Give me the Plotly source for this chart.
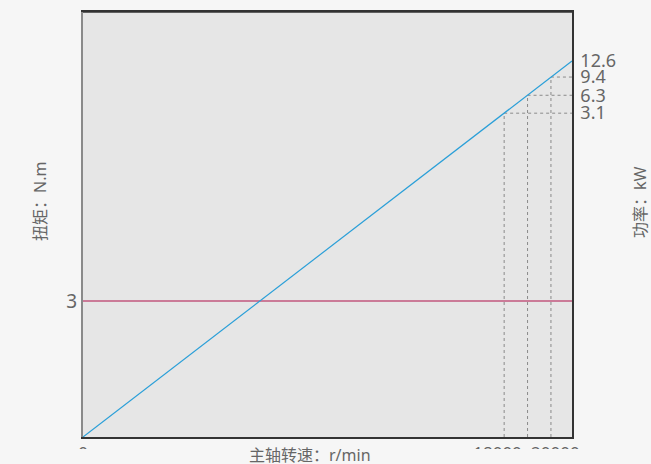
import plotly.graph_objects as go

# Data
speed_range = [0, 20900]            # spindle speed r/min (start, end)
power_curve = [0, 12.6]             # power kW along speed_range
torque_curve = [3, 3]               # torque N.m along speed_range
mark_speeds = [18000, 19000, 20000]
mark_powers = [10.85, 11.45, 12.06]
power_tickvals = [10.85, 11.45, 12.06, 12.6]
power_ticktext = ["3.1", "6.3", "9.4", "12.6"]
torque_ticks = [3]
speed_tickvals = [0, 18000, 20000]
speed_ticktext = ["0", "18000\u00a0\u00a0\u00a0", "\u00a0\u00a020000"]

FONT = "Noto Sans, Noto Sans CJK SC, sans-serif"
GRAY = "#666666"

fig = go.Figure()

# dashed guide lines
for s, p in zip(mark_speeds, mark_powers):
    fig.add_trace(go.Scatter(x=[s, s], y=[0, p], yaxis="y2", mode="lines",
                             line=dict(color="#8a8a8a", width=1, dash="3px,3px"),
                             hoverinfo="skip", showlegend=False))
    fig.add_trace(go.Scatter(x=[s, speed_range[1]], y=[p, p], yaxis="y2", mode="lines",
                             line=dict(color="#8a8a8a", width=1, dash="3px,3px"),
                             hoverinfo="skip", showlegend=False))

# torque line
fig.add_trace(go.Scatter(x=speed_range, y=torque_curve, mode="lines",
                         line=dict(color="#b0104a", width=1.1), showlegend=False))
# power line
fig.add_trace(go.Scatter(x=speed_range, y=power_curve, yaxis="y2", mode="lines",
                         line=dict(color="#2a9fd8", width=1.2), showlegend=False))

fig.update_layout(
    width=651, height=464,
    margin=dict(l=83, r=79, t=12, b=27, autoexpand=False),
    paper_bgcolor="#f6f6f6",
    plot_bgcolor="#e6e6e6",
    font=dict(family=FONT, color=GRAY, size=17),
    xaxis=dict(range=speed_range, tickvals=speed_tickvals, ticktext=speed_ticktext,
               showgrid=False, zeroline=False, showline=True, linecolor="#333333",
               linewidth=1.5, mirror=True, ticks="", ticklen=0, tickangle=0,
               automargin=False, tickfont=dict(size=17, color=GRAY)),
    yaxis=dict(range=[0, 9.375], tickvals=torque_ticks, showgrid=False, zeroline=False,
               showline=True, linecolor="#8a8a8a", linewidth=2, ticks="", automargin=False,
               tickfont=dict(size=19, color=GRAY)),
    yaxis2=dict(range=[0, 14.24], overlaying="y", side="right", tickvals=power_tickvals,
                ticktext=power_ticktext, showgrid=False, zeroline=False, showline=True,
                linecolor="#333333", linewidth=1.5, ticks="", automargin=False,
                ticklabelstandoff=3, tickfont=dict(size=18, color=GRAY)),
    shapes=[dict(type="rect", xref="paper", yref="paper", x0=-0.2, x1=1.2,
                 y0=-(449 - 437) / 425, y1=-0.07, fillcolor="#f6f6f6", line=dict(width=0),
                 layer="above"),
            dict(type="line", xref="paper", yref="paper", x0=0, x1=1, y0=1, y1=1,
                 line=dict(color="#333333", width=1.5), layer="above")],
    annotations=[
        dict(text="主轴转速：r/min", xref="paper", yref="paper", x=(310 - 83) / 489,
             y=-(455 - 437) / 425, showarrow=False, font=dict(size=16, color=GRAY),
             xanchor="center", yanchor="middle"),
        dict(text="扭矩：N.m", xref="paper", yref="paper", x=-(83 - 40) / 489,
             y=(437 - 202) / 425, showarrow=False, textangle=-90,
             font=dict(size=16, color=GRAY), xanchor="center", yanchor="middle"),
        dict(text="功率：kW", xref="paper", yref="paper", x=1 + (640 - 572) / 489,
             y=(437 - 202) / 425, showarrow=False, textangle=-90,
             font=dict(size=16, color=GRAY), xanchor="center", yanchor="middle"),
    ],
)

fig.write_html("out.html")
